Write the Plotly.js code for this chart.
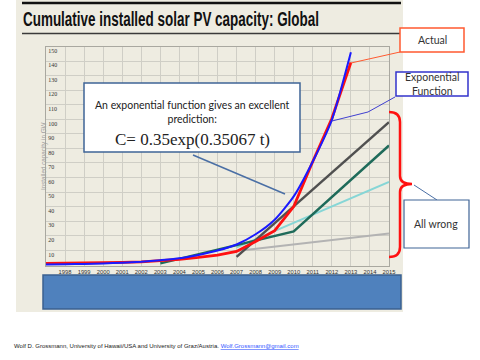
<!DOCTYPE html>
<html><head><meta charset="utf-8">
<script src="https://cdn.plot.ly/plotly-3.0.1.min.js"></script>
<style>html,body{margin:0;padding:0;background:#fff}#chart{width:480px;height:360px}</style>
</head><body><div id="chart"></div>
<script>
// ---- data ----
const tickYears  = [1997,1998,1999,2000,2001,2002,2003,2004,2005,2006,2007,2008,2009,2010,2011,2012,2013,2014,2015];
const tickLabels = ['1997','1998','1999','2000','2001','2002','2003','2004','2005','2006','2007','2008','2009','2010','2011','2012','2013','2014','2015'];
const yTicks     = [10,20,30,40,50,60,70,80,90,100,110,120,130,140,150];

const actualYears = [1997,1998,1999,2000,2001,2002,2003,2004,2005,2006,2007,2008,2009,2010,2011,2012,2013];
const actualGW    = [1.0,1.1,1.2,1.4,1.7,2.1,2.8,3.8,5.1,6.7,9.2,16,23.5,40,71,100.5,139];

const expYears = [1997,1998,1999,2000,2001,2002,2003,2004,2005,2006,2007,2008,2009,2010,2011,2012,2013];
const expGW    = [0.3,0.4,0.6,1.0,1.4,2.1,3.2,4.5,6.8,9.8,14,21,31,47,71,99.5,146];

const darkGrayYears = [2007,2015];  const darkGrayGW = [5.5,98];
const greenYears    = [2003,2010,2015]; const greenGW = [1,23,82];
const cyanYears     = [2007,2015];  const cyanGW = [12,57];
const lightGrayYears= [2007,2015];  const lightGrayGW = [9.5,21.5];

// ---- layout helpers (pixel -> paper) ----
const W=480,H=360;
const px=x=>x/W, py=y=>1-y/H;
const pt=(x,y)=>px(x).toFixed(5)+','+py(y).toFixed(5);

function line(x0,y0,x1,y1,color,width){
  return {type:'line',xref:'paper',yref:'paper',x0:px(x0),y0:py(y0),x1:px(x1),y1:py(y1),line:{color:color,width:width}};
}
function rect(x0,y0,x1,y1,fill,lc,lw,layer){
  return {type:'rect',xref:'paper',yref:'paper',x0:px(x0),y0:py(y0),x1:px(x1),y1:py(y1),fillcolor:fill,line:{color:lc,width:lw},layer:layer||'above'};
}
function label(text,x,y,size,family,color,xanchor){
  return {text:text,xref:'paper',yref:'paper',x:px(x),y:py(y),xanchor:xanchor||'center',yanchor:'middle',showarrow:false,font:{size:size,family:family,color:color}};
}

const traces = [
  {x:lightGrayYears,y:lightGrayGW,mode:'lines',line:{color:'#b3b3b3',width:2}},
  {x:cyanYears,y:cyanGW,mode:'lines',line:{color:'#86d6d6',width:2}},
  {x:greenYears,y:greenGW,mode:'lines',line:{color:'#1f6b5a',width:2.5}},
  {x:darkGrayYears,y:darkGrayGW,mode:'lines',line:{color:'#505050',width:2.5}},
  {x:actualYears,y:actualGW,mode:'lines',line:{color:'#ff1010',width:2.8}},
  {x:expYears,y:expGW,mode:'lines',line:{color:'#1a1aff',width:2,shape:'spline',smoothing:0.6}}
];

const bracket = 'M'+pt(389,112)+' Q'+pt(400,112)+' '+pt(400,122)+' L'+pt(400,176)+' Q'+pt(400,184)+' '+pt(412,184)+
                ' Q'+pt(400,184)+' '+pt(400,192)+' L'+pt(400,247)+' Q'+pt(400,257)+' '+pt(389,257);
const expCallout = 'M'+pt(332,121)+' L'+pt(368,112)+' L'+pt(395,97);

const titleText = 'Cumulative installed solar PV capacity: Global';

const layout = {
  width:W,height:H,margin:{l:0,r:0,t:0,b:0,pad:0},
  paper_bgcolor:'#ffffff',plot_bgcolor:'rgba(0,0,0,0)',
  showlegend:false,hovermode:false,
  xaxis:{domain:[px(46),px(389)],range:[1997,2015],tickmode:'array',tickvals:tickYears,ticktext:tickLabels,
         showgrid:true,gridcolor:'#cfcec6',gridwidth:1,zeroline:false,showline:true,linecolor:'#a9a8a0',mirror:true,
         ticks:'',tickfont:{size:5.8,family:'Liberation Sans',color:'#333'},fixedrange:true},
  yaxis:{domain:[py(266),py(46.5)],range:[-0.8,150],tickmode:'array',tickvals:yTicks,
         showgrid:true,gridcolor:'#cfcec6',gridwidth:1,zeroline:false,showline:true,linecolor:'#a9a8a0',mirror:true,
         ticks:'',ticklabelposition:'inside bottom',tickfont:{size:6,family:'Liberation Serif',color:'#333'},
         title:{text:'Installed capacity in GW',standoff:1,font:{size:6.3,family:'Liberation Sans',color:'#a0a0a0'}},fixedrange:true},
  shapes:[
    rect(16,0,403,312,'#eeece1','rgba(0,0,0,0)',0,'below'),
    line(22,3,401,3,'#111111',2.5),
    line(22,33.5,400,33.5,'#3a3a3a',1.5),
    rect(43,275,401,309,'#4f81bd','#3b6090',1.5),
    rect(84,83,300,152,'#ffffff','#3f6496',1.5),
    line(193,155,285,194,'#4a6fa5',1.5),
    line(351,63,400,52,'#ff5a30',1),
    {type:'path',xref:'paper',yref:'paper',path:expCallout,line:{color:'#4040d0',width:1}},
    {type:'path',xref:'paper',yref:'paper',path:bracket,line:{color:'#ff1010',width:2.5}},
    line(414,185,437,200,'#4a6fa5',1),
    rect(400,28,464,52,'#ffffff','#ff5a30',1.5),
    rect(396,72,468,96,'#ffffff','#3333cc',1.5),
    rect(404,200,469,248,'#ffffff','#3f6496',1.2)
  ],
  annotations:[
    {text:'<b>'+titleText+'</b>',xref:'paper',yref:'paper',x:px(21),y:py(19),xanchor:'left',yanchor:'middle',align:'left',showarrow:false,
     font:{size:20,family:'Liberation Sans',color:'#111'}},
    {text:'An exponential function gives an excellent<br>prediction:',xref:'paper',yref:'paper',x:px(192),y:py(111.5),xanchor:'center',yanchor:'middle',showarrow:false,
     font:{size:10.5,family:'Lato',color:'#222'}},
    label('C= 0.35exp(0.35067 t)',192,140,17,'Liberation Serif','#222'),
    label('Actual',432,40,10.5,'Lato','#333'),
    {text:'Exponential<br>Function',xref:'paper',yref:'paper',x:px(432),y:py(83.5),xanchor:'center',yanchor:'middle',showarrow:false,
     font:{size:10.5,family:'Lato',color:'#333'}},
    label('All wrong',436,224,10.5,'Lato','#333'),
    label('Wolf D. Grossmann, University of Hawaii/USA and University of Graz/Austria. <span style="color:#3355ff;text-decoration:underline">Wolf.Grossmann@gmail.com</span>',12,346,6,'Liberation Sans','#222','left')
  ]
};

Plotly.newPlot('chart',traces,layout,{staticPlot:true,displayModeBar:false}).then(function(gd){
  // condense the slide title to the width of the original's condensed typeface
  var t = gd.querySelector('.annotation[data-index="0"] text.annotation-text');
  if(t){ t.setAttribute('textLength','296'); t.setAttribute('lengthAdjust','spacingAndGlyphs'); }
});
</script></body></html>
